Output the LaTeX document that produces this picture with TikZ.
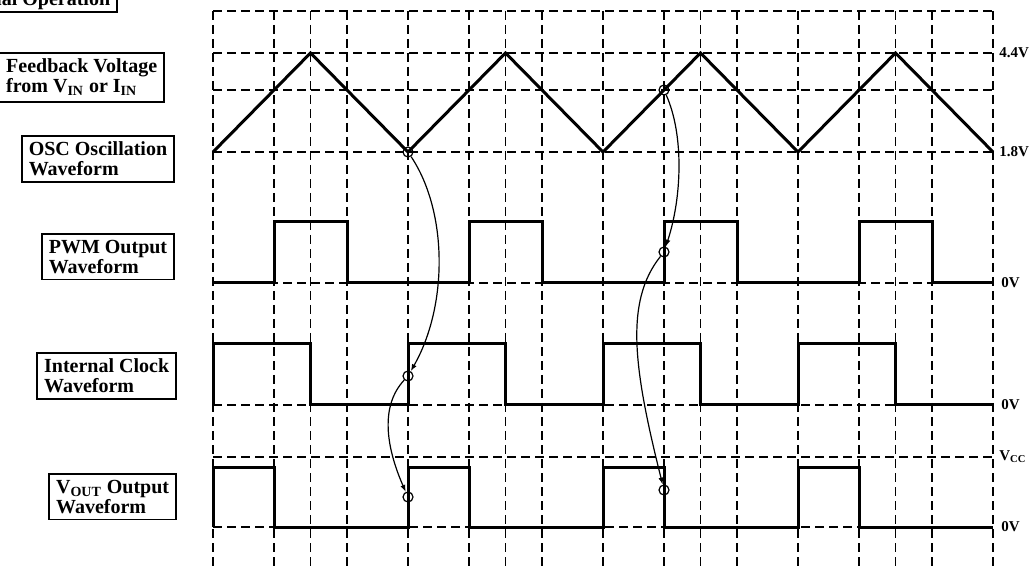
\documentclass[tikz,border=0pt]{standalone}
\usepackage{fontspec}
\setmainfont{Liberation Serif}
\usetikzlibrary{arrows.meta}

\begin{document}
\begin{tikzpicture}
    [x=0.5pt, y=-0.5pt,
    grid/.style={dash pattern=on 4.5pt off 2.5pt, line width=0.9pt},
    wave/.style={line width=1.5pt, line join=miter},
    tag/.style={draw, line width=0.85pt, align=left, inner xsep=3.5pt, inner ysep=3pt,
        font=\bfseries\fontsize{10}{10}\selectfont},
    lvl/.style={anchor=west, inner sep=1.5pt, font=\bfseries\fontsize{7.5}{7.5}\selectfont},
    ring/.style={draw, circle, inner sep=0pt, minimum size=5pt, line width=0.6pt},
    ->-/.style={line width=0.6pt, -{Latex[length=3.5pt, width=2.6pt]}}]
    \useasboundingbox (0,0) rectangle (1033,571);

    \foreach \y in {11,53,90,152,283,405,457,527}
        \draw[grid] (213,\y) -- (993,\y);
    \foreach \p in {213,408,603,798}{
        \draw[grid] (\p,11) -- (\p,571);
        \draw[grid] (\p+61,11) -- (\p+61,571);
        \draw[grid] (\p+97.5,11) -- (\p+97.5,571);
        \draw[grid] (\p+134,11) -- (\p+134,571);
    }
    \draw[grid] (993,11) -- (993,571);

    \draw[wave] (213,152) -- (310.5,53) -- (408,152) -- (505.5,53) -- (603,152)
        -- (700.5,53) -- (798,152) -- (895.5,53) -- (993,152);
    \draw[wave] (213,283) -| (274,222) -| (347,283) -| (469,222) -| (542,283)
        -| (664,222) -| (737,283) -| (859,222) -| (932,283) -- (993,283);
    \draw[wave] (213,405) -- (213,344) -| (310.5,405) -| (408,344) -| (505.5,405)
        -| (603,344) -| (700.5,405) -| (798,344) -| (895.5,405) -- (993,405);
    \draw[wave] (213,527) -- (213,467) -| (274,527) -| (408,467) -| (469,527)
        -| (603,467) -| (664,527) -| (798,467) -| (859,527) -- (993,527);

    \node[tag, anchor=south east, inner ysep=1pt] (norm) at (118,13) {Normal Operation};
    \node[tag, anchor=north east] (fb) at (165,52) {Feedback Voltage\\from V\textsubscript{IN} or I\textsubscript{IN}};
    \node[tag, anchor=north east] (osc) at (175,135) {OSC Oscillation\\Waveform};
    \node[tag, anchor=north east] (pwm) at (175,233) {PWM Output\\Waveform};
    \node[tag, anchor=north east] (clk) at (177,352) {Internal Clock\\Waveform};
    \node[tag, anchor=north east] (vout) at (177,473) {V\textsubscript{OUT} Output\\Waveform};

    \node[lvl] (hi) at (996,53) {4.4V};
    \node[lvl] (lo) at (996,152) {1.8V};
    \node[lvl] (z1) at (998,283) {0V};
    \node[lvl] (z2) at (998,405) {0V};
    \node[lvl] (vcc) at (996,457) {V\textsubscript{CC}};
    \node[lvl] (z3) at (998,527) {0V};

    \node[ring] (c1) at (408,152) {};
    \node[ring] (c2) at (408,376) {};
    \node[ring] (c3) at (408,497) {};
    \node[ring] (c4) at (664,90) {};
    \node[ring] (c5) at (664,252) {};
    \node[ring] (c6) at (664,490) {};

    \draw[->-] (c1) .. controls +(40,60) and +(40,-70) .. (c2);
    \draw[->-] (c2) .. controls +(-28,30) and +(-22,-50) .. (c3);
    \draw[->-] (c4) .. controls +(20,45) and +(18,-55) .. (c5);
    \draw[->-] (c5) .. controls +(-40,50) and +(-30,-120) .. (c6);
\end{tikzpicture}
\end{document}
